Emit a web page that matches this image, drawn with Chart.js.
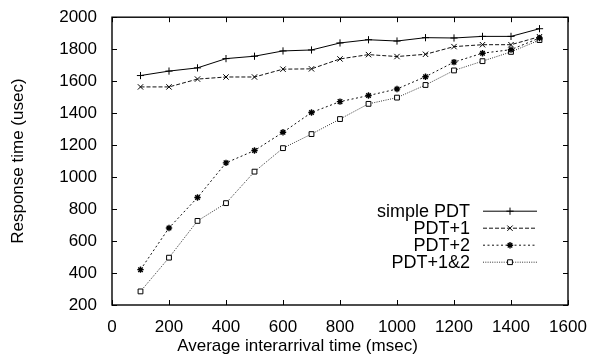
<!DOCTYPE html>
<html>
<head>
<meta charset="utf-8">
<script src="https://cdn.jsdelivr.net/npm/chart.js"></script>
<style>
  html, body { margin: 0; padding: 0; background: #fff; }
  #c { display: block; }
</style>
</head>
<body>
<canvas id="c" width="595" height="360"></canvas>
<script>
// values
const interarrival = [100, 200, 300, 400, 500, 600, 700, 800, 900, 1000, 1100, 1200, 1300, 1400, 1500]
const seriesNames = ['simple PDT', 'PDT+1', 'PDT+2', 'PDT+1&2']
const simplePDT = [1635, 1663, 1683, 1741, 1756, 1789, 1795, 1839, 1859, 1851, 1872, 1870, 1880, 1880, 1928]
const pdtPlus1 = [1564, 1564, 1613, 1626, 1626, 1675, 1677, 1739, 1766, 1754, 1768, 1816, 1828, 1828, 1878]
const pdtPlus2 = [421, 682, 872, 1089, 1166, 1280, 1404, 1472, 1510, 1551, 1628, 1719, 1775, 1797, 1870]
const pdtPlus12 = [285, 496, 726, 837, 1034, 1181, 1269, 1363, 1458, 1497, 1576, 1667, 1725, 1783, 1857]
const xTicks = [0, 200, 400, 600, 800, 1000, 1200, 1400, 1600]
const yTicks = [200, 400, 600, 800, 1000, 1200, 1400, 1600, 1800, 2000]

const FONT = 'Liberation Sans, Arial, Helvetica, sans-serif'

function pts(vals) {
  return vals.map(function (v, i) { return { x: interarrival[i], y: v } })
}

const looks = [
  { dash: [], style: 'cross', r: 3.6, bw: 1, fill: '#000', color: '#000' },
  { dash: [4, 2], style: 'crossRot', r: 3.8, bw: 1, fill: '#000', color: '#111' },
  { dash: [2, 2.5], style: 'star', r: 3.2, bw: 1.4, fill: '#000', color: '#111' },
  { dash: [1, 1.3], style: 'rect', r: 3.4, bw: 1, fill: '#fff', color: '#333' }
]
const allValues = [simplePDT, pdtPlus1, pdtPlus2, pdtPlus12]

const datasets = seriesNames.map(function (name, i) {
  const l = looks[i]
  return {
    label: name,
    data: pts(allValues[i]),
    borderColor: l.color,
    borderWidth: 1,
    borderDash: l.dash,
    pointStyle: l.style,
    pointRadius: l.r,
    pointBorderWidth: l.bw,
    pointBorderColor: '#000',
    pointBackgroundColor: l.fill,
    tension: 0,
    fill: false
  }
})

// gnuplot style box, inward ticks on all four sides, legend at lower right
const gnuplotFrame = {
  id: 'gnuplotFrame',
  afterDatasetsDraw(chart) {
    const ctx = chart.ctx
    const a = chart.chartArea
    const xs = chart.scales.x
    const ys = chart.scales.y
    const tl = 5
    ctx.save()
    ctx.strokeStyle = '#000'
    ctx.lineWidth = 1
    ctx.setLineDash([])
    ctx.beginPath()
    xTicks.forEach(function (v) {
      const px = Math.round(xs.getPixelForValue(v)) + 0.5
      ctx.moveTo(px, a.bottom); ctx.lineTo(px, a.bottom - tl)
      ctx.moveTo(px, a.top); ctx.lineTo(px, a.top + tl)
    })
    yTicks.forEach(function (v) {
      const py = Math.round(ys.getPixelForValue(v)) + 0.5
      ctx.moveTo(a.left, py); ctx.lineTo(a.left + tl, py)
      ctx.moveTo(a.right, py); ctx.lineTo(a.right - tl, py)
    })
    ctx.stroke()
    ctx.lineWidth = 1.4
    ctx.strokeRect(a.left, a.top, a.right - a.left, a.bottom - a.top)

    // legend
    ctx.font = '18px ' + FONT
    ctx.textAlign = 'right'
    ctx.textBaseline = 'middle'
    chart.data.datasets.forEach(function (ds, i) {
      const y = a.top + 193.5 + i * 17
      ctx.fillStyle = '#000'
      ctx.fillText(ds.label, a.right - 98, y + 1)
      ctx.strokeStyle = ds.borderColor
      ctx.lineWidth = ds.borderWidth
      ctx.setLineDash(ds.borderDash)
      ctx.beginPath()
      ctx.moveTo(a.right - 85, y + 0.5)
      ctx.lineTo(a.right - 31, y + 0.5)
      ctx.stroke()
      ctx.setLineDash([])
      ctx.strokeStyle = ds.pointBorderColor
      ctx.fillStyle = ds.pointBackgroundColor
      ctx.lineWidth = ds.pointBorderWidth
      if (Chart.helpers && Chart.helpers.drawPoint) {
        Chart.helpers.drawPoint(ctx, {
          pointStyle: ds.pointStyle, radius: ds.pointRadius,
          borderWidth: ds.pointBorderWidth, rotation: 0
        }, a.right - 58, y + 0.5)
      }
    })
    ctx.restore()
  }
}

function plain(v) { return String(v) }

const config = {
  type: 'line',
  data: { datasets: datasets },
  options: {
    responsive: false,
    animation: false,
    devicePixelRatio: 1,
    layout: { padding: { top: 15, right: 0, left: 0, bottom: 0 } },
    plugins: {
      legend: { display: false },
      tooltip: { enabled: false },
      title: {
        display: true,
        position: 'bottom',
        text: 'Average interarrival time (msec)',
        color: '#000',
        font: { family: FONT, size: 17, weight: 'normal' },
        padding: { top: 0, bottom: 3 }
      }
    },
    scales: {
      x: {
        type: 'linear',
        min: 0,
        max: 1600,
        grid: { display: false },
        border: { display: false },
        ticks: { color: '#000', padding: 4, font: { family: FONT, size: 17 }, maxRotation: 0, callback: plain },
        afterBuildTicks: function (s) { s.ticks = xTicks.map(function (v) { return { value: v } }) },
        afterFit: function (s) { s.height = 31.6 }
      },
      y: {
        type: 'linear',
        min: 200,
        max: 2000,
        grid: { display: false },
        border: { display: false },
        ticks: { color: '#000', padding: 7, font: { family: FONT, size: 17 }, callback: plain },
        afterBuildTicks: function (s) { s.ticks = yTicks.map(function (v) { return { value: v } }) },
        title: {
          display: true,
          text: 'Response time (usec)',
          color: '#000',
          font: { family: FONT, size: 17 },
          padding: { top: 8, bottom: 0 }
        },
        afterFit: function (s) { s.width = 112 }
      },
      // empty axis that only keeps the right margin, so the bottom title stays centred on the page
      rightGap: {
        type: 'linear',
        position: 'right',
        display: true,
        grid: { display: false },
        border: { display: false },
        ticks: { display: false },
        afterFit: function (s) { s.width = 27 }
      }
    }
  },
  plugins: [gnuplotFrame]
}

const myChart = new Chart(document.getElementById('c'), config)
</script>
</body>
</html>
